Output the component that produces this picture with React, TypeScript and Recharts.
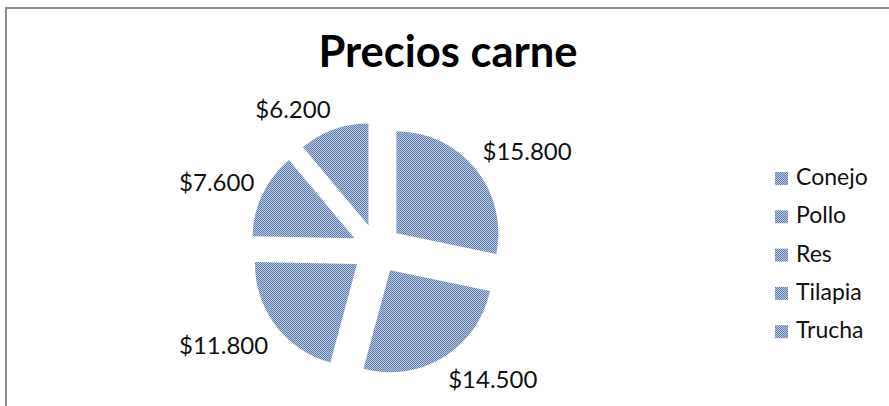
import { PieChart, Pie, Cell, Legend } from "recharts";

const CATEGORIES = ["Conejo", "Pollo", "Res", "Tilapia", "Trucha"];
const PRICES = [15800, 14500, 11800, 7600, 6200];
const TITLE = "Precios carne";

const data = CATEGORIES.map((name, i) => ({ name, value: PRICES[i] }));

const WIDTH = 889;
const HEIGHT = 406;
const CENTER_X = 377;
const CENTER_Y = 249;
const RADIUS = 102;
const EXPLODE = 25;
const FONT = "Lato, 'Open Sans', sans-serif";

const TOTAL = PRICES.reduce((a, b) => a + b, 0);

// Mid angle (deg, clockwise from 12 o'clock) of each slice, for the explode offset.
const midAngles = PRICES.map((v, i) => {
  const before = PRICES.slice(0, i).reduce((a, b) => a + b, 0);
  return ((before + v / 2) / TOTAL) * 360;
});

// "$15.800" style, dot as thousands separator.
const fmtPrice = (n: number): string =>
  "$" + String(n).replace(/\B(?=(\d{3})+(?!\d))/g, ".");

interface LabelProps {
  cx?: number;
  cy?: number;
  midAngle?: number;
  outerRadius?: number;
  index?: number;
  value?: number;
}

// Each exploded slice is its own Pie; only its own label is drawn.
const labelFor = (idx: number) => (props: LabelProps) => {
  const { cx = 0, cy = 0, midAngle = 0, outerRadius = 0, index, value } = props;
  if (index !== idx || value == null) return null;
  const rad = (-midAngle * Math.PI) / 180;
  const dx = Math.cos(rad);
  const dy = Math.sin(rad);
  const ax = cx + (outerRadius + 9) * dx;
  const ay = cy + (outerRadius + 9) * dy;
  return (
    <text
      key={`label-${idx}`}
      x={ax}
      y={dy < 0 ? ay - 3 + (dy > -0.5 ? 4 : 0) : ay + 23}
      textAnchor={dx >= 0 ? "start" : "end"}
      fill="#111"
      fontFamily={FONT}
      fontSize={24}
    >
      {fmtPrice(value)}
    </text>
  );
};

function LegendBox() {
  return (
    <svg width={110} height={200}>
      {CATEGORIES.map((name, i) => (
        <g key={name}>
          <rect x={5} y={12 + i * 38.3} width={13} height={13} fill="url(#hatch)" />
          <text x={26} y={25 + i * 38.3} fontFamily={FONT} fontSize={23} fill="#111">
            {name}
          </text>
        </g>
      ))}
    </svg>
  );
}

export default function App() {
  return (
    <div style={{ position: "relative", width: WIDTH, height: HEIGHT, background: "#fff", overflow: "hidden" }}>
      <style>{"body{margin:0;overflow:hidden;background:#fff}"}</style>
      <svg width={0} height={0} style={{ position: "absolute" }}>
        <defs>
          <pattern id="hatch" width={2} height={2} patternUnits="userSpaceOnUse">
            <rect width={2} height={2} fill="#bdc8df" />
            <rect x={0} y={0} width={1} height={1} fill="#5f7caf" />
            <rect x={1} y={1} width={1} height={1} fill="#5f7caf" />
          </pattern>
        </defs>
      </svg>

      {/* chart area outline, only top and left edges are in frame */}
      <div
        style={{
          position: "absolute",
          left: 5,
          top: 7,
          width: WIDTH,
          height: HEIGHT,
          borderTop: "2px solid #8c8c8c",
          borderLeft: "2px solid #8c8c8c",
        }}
      />

      <svg width={WIDTH} height={90} style={{ position: "absolute", left: 0, top: 0 }}>
        <text x={448} y={67} textAnchor="middle" fontFamily={FONT} fontWeight={700} fontSize={43.5} fill="#000">
          {TITLE}
        </text>
      </svg>

      <div style={{ position: "absolute", left: 0, top: 0 }}>
        <PieChart width={WIDTH} height={HEIGHT} margin={{ top: 0, right: 0, bottom: 0, left: 0 }}>
          {CATEGORIES.map((name, i) => {
            const a = (midAngles[i] * Math.PI) / 180;
            return (
              <Pie
                key={name}
                data={data}
                dataKey="value"
                nameKey="name"
                cx={CENTER_X + EXPLODE * Math.sin(a)}
                cy={CENTER_Y - EXPLODE * Math.cos(a)}
                outerRadius={RADIUS}
                startAngle={90}
                endAngle={-270}
                stroke="none"
                labelLine={false}
                label={labelFor(i)}
                isAnimationActive={false}
              >
                {data.map((d, j) => (
                  <Cell key={d.name} fill={j === i ? "url(#hatch)" : "none"} stroke="none" />
                ))}
              </Pie>
            );
          })}
          <Legend
            layout="vertical"
            align="right"
            verticalAlign="middle"
            content={() => <LegendBox />}
            wrapperStyle={{ position: "absolute", left: 770, top: 160, width: 110, height: 200 }}
          />
        </PieChart>
      </div>
    </div>
  );
}
